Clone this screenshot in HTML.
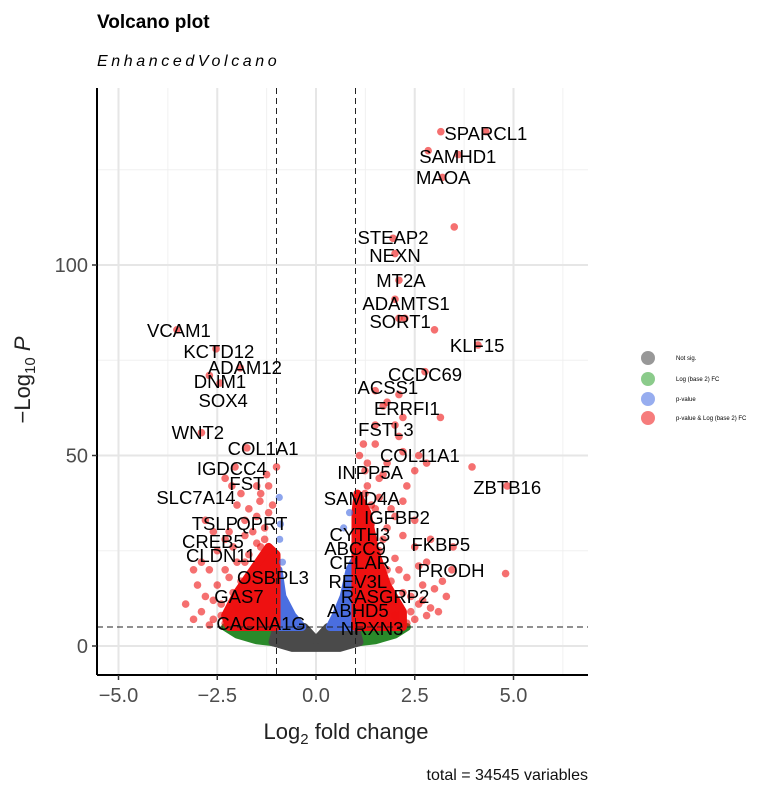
<!DOCTYPE html>
<html><head><meta charset="utf-8"><style>
body{margin:0;background:#fff;font-family:"Liberation Sans",sans-serif}
svg{display:block}
</style></head><body>
<svg id="chart" width="764" height="792" xmlns="http://www.w3.org/2000/svg">
<text x="97" y="28" font-size="19" font-weight="bold">Volcano plot</text>
<text x="97" y="66" font-size="16" font-style="italic" letter-spacing="3.6">EnhancedVolcano</text>
<g id="grid"></g>
<g id="dense"></g>
<g id="pts"></g>
<g id="thr"></g>
<g id="labels"></g>
<g id="axes"></g>
<text x="346" y="739" font-size="22" text-anchor="middle" fill="#222">Log<tspan font-size="15" dy="5">2</tspan><tspan dy="-5"> fold change</tspan></text>
<text transform="translate(30,380) rotate(-90)" font-size="22" text-anchor="middle" fill="#222">−Log<tspan font-size="15" dy="5">10</tspan><tspan dy="-5" font-style="italic"> P</tspan></text>
<text x="588" y="780" font-size="16" text-anchor="end" fill="#111">total = 34545 variables</text>
<g id="legend"></g>
</svg>
<script>
const xTicks=[-5,-2.5,0,2.5,5];
const xTickLabels=["−5.0","−2.5","0.0","2.5","5.0"];
const yTicks=[0,50,100];
const yTickLabels=["0","50","100"];
const fcCut=[-1,1];
const pCut=[5];
const redX=[3.16,4.3,2.84,3.6,3.2,3.5,1.95,2.0,2.1,2.0,2.1,2.25,3.0,4.1,2.76,1.5,2.1,1.7,3.15,2.0,2.1,1.5,2.6,2.2,3.95,4.84,1.24,1.6,1.24,2.3,1.4,2.0,2.5,1.0,1.8,3.47,2.9,3.44,4.8,2.8,2.3,2.7,3.0,2.9,2.4,2.2,1.8,1.6,2.5,2.0,1.5,1.3,1.8,-3.52,-2.53,-1.92,-2.43,-2.7,-2.9,-1.75,-2.05,-2.13,-1.42,-2.8,-1.5,-1.25,-1.9,-2.3,-1.7,-2.2,-1.6,-2.5,-2.7,-3.0,-2.6,-2.2,-1.8,-2.9,-2.4,-1.4,-1.2,-1.3,-2.0,-3.1,
2.3,2.5,2.8,3.1,2.6,2.0,2.4,1.9,2.1,2.6,3.2,2.0,1.7,2.2,1.4,1.9,1.6,2.2,1.3,1.7,2.5,2.8,1.1,1.5,2.2,1.8,3.3,2.7,1.2,
-2.3,-2.6,-2.9,-2.4,-2.8,-2.1,-2.5,-1.9,-2.3,-2.0,-1.7,-2.1,-1.5,-2.3,-1.8,-1.3,-2.6,-1.5,-1.1,-2.0,-1.4,-3.3,-3.1,-2.7,-1.8,-1.2,-1.0];
const redY=[135,135,130,129,123,110,107,103,96,91,86,86,83,79,72,67,66,63,60,58,55,53,50,51,47,42,46,44,40,42,37,34,33,30,31,26,28,20,19,22,18,12,15,10,9,14,20,25,26,8,36,48,48,83,78,73,69,71,56,52,47,42,38,33,42,45,40,44,36,30,30,25,20,16,12,18,22,22,8,26,35,28,10,20,
6,7,8,9,11,12,13,17,20,21,17,23,28,29,32,36,39,38,42,45,46,48,50,58,60,64,13,16,53,
6,7,9,11,13,14,16,17,20,22,24,26,27,28,29,31,30,34,37,37,40,11,7,5.5,33,42,47];
const blueX=[-0.93,-0.9,-0.92,-0.85,0.7,0.85];
const blueY=[39,32,28,22,31,35];
const greyPolyX=[-1,-1.1,-0.6,0.6,1.1,1,0.3,0,-0.3];
const greyPolyY=[5,1,-0.5,-0.5,1,5,5,1.6,5];
const greenLX=[-1,-2.3,-2.0,-1.5,-1.1];const greenLY=[5,5,3,1.5,1];
const greenRX=[1,2.3,2.0,1.5,1.1];const greenRY=[5,5,3,1.5,1];
const blueLX=[-1,-0.35,-0.6,-0.85,-0.95,-1];const blueLY=[5,5,8,13,20,20];
const blueRX=[1,0.35,0.5,0.7,0.85,1];const blueRY=[5,5,8,13,20,23];
const redLX=[-1,-2.2,-2.3,-2.0,-1.6,-1.2,-1];const redLY=[5,5,8,14,20,26,24];
const redRX=[1,2.2,2.2,1.8,1.5,1.3,1.05,1];const redRY=[5,5,9,16,25,35,40,35];
const geneNames=["SPARCL1","SAMHD1","MAOA","STEAP2","NEXN","MT2A","ADAMTS1","SORT1","KLF15","CCDC69","ACSS1","ERRFI1","FSTL3","COL11A1","INPP5A","ZBTB16","SAMD4A","IGFBP2","CYTH3","ABCC9","FKBP5","CFLAR","PRODH","REV3L","RASGRP2","ABHD5","NRXN3","VCAM1","KCTD12","ADAM12","DNM1","SOX4","WNT2","COL1A1","IGDCC4","FST","SLC7A14","TSLP","QPRT","CREB5","CLDN11","OSBPL3","GAS7","CACNA1G"];
const geneLX=[4.30,3.59,3.22,1.95,2.0,2.15,2.28,2.13,4.08,2.76,1.82,2.30,1.77,2.63,1.37,4.84,1.16,2.05,1.11,0.99,3.16,1.11,3.42,1.06,1.75,1.06,1.42,-3.47,-2.46,-1.80,-2.43,-2.35,-2.99,-1.34,-2.13,-1.75,-3.04,-2.56,-1.37,-2.61,-2.41,-1.09,-1.95,-1.39];
const geneLY=[134.4,128.3,122.8,107.1,102.4,95.8,89.8,85.0,78.7,71.1,67.7,62.2,56.7,49.9,45.4,41.5,38.6,33.6,29.1,25.5,26.5,21.8,19.7,16.8,12.9,9.2,4.5,82.7,77.2,73.0,69.3,64.3,55.9,51.7,46.5,42.5,38.8,32.0,32.0,27.3,23.6,17.9,12.9,5.8];
const legendLabels=["Not sig.","Log (base 2) FC","p-value","p-value & Log (base 2) FC"];
const legendColors=["#444444","#2ca02c","#4169e1","#ee1111"];

const X0=97,X1=588,Y0=88,Y1=675;
const sx=v=>316+v*39.5, sy=v=>646-v*3.81;
const NS="http://www.w3.org/2000/svg";
function mk(t,p,a){const e=document.createElementNS(NS,t);for(const k in a)e.setAttribute(k,a[k]);p.appendChild(e);return e;}
const G=id=>document.getElementById(id);
const grid=G('grid');
[-3.75,-1.25,1.25,3.75,6.25].forEach(v=>{const l=mk('line',grid,{x1:sx(v),x2:sx(v),y1:Y0,y2:Y1,stroke:'#f0f0f0','stroke-width':1});

});
[25,75,125].forEach(v=>{const l=mk('line',grid,{x1:X0,x2:X1,y1:sy(v),y2:sy(v),stroke:'#f0f0f0','stroke-width':1});

});
xTicks.forEach(v=>{const l=mk('line',grid,{x1:sx(v),x2:sx(v),y1:Y0,y2:Y1,stroke:'#e6e6e6','stroke-width':2});

});
yTicks.forEach(v=>{const l=mk('line',grid,{x1:X0,x2:X1,y1:sy(v),y2:sy(v),stroke:'#e6e6e6','stroke-width':2});

});
const dense=G('dense');
function poly(xs,ys,fill,name){const p=mk('polygon',dense,{points:xs.map((x,i)=>sx(x)+','+sy(ys[i])).join(' '),fill:fill,stroke:fill,'stroke-width':8,'stroke-linejoin':'round'});

}
poly(greenLX,greenLY,'#2a8a2a','green-cloud-left');
poly(greenRX,greenRY,'#2a8a2a','green-cloud-right');
poly(greyPolyX,greyPolyY,'#4a4a4a','grey-cloud');
poly(blueLX,blueLY,'#4a6ee0','blue-cloud-left');
poly(blueRX,blueRY,'#4a6ee0','blue-cloud-right');
poly(redLX,redLY,'#ee1111','red-cloud-left');
poly(redRX,redRY,'#ee1111','red-cloud-right');
const pts=G('pts');
redX.forEach((x,i)=>{const c=mk('circle',pts,{cx:sx(x),cy:sy(redY[i]),r:3.8,fill:'#ee1111','fill-opacity':0.6});

});
blueX.forEach((x,i)=>{const c=mk('circle',pts,{cx:sx(x),cy:sy(blueY[i]),r:3.6,fill:'#4169e1','fill-opacity':0.6});

});
const thr=G('thr');
fcCut.forEach(v=>{const l=mk('line',thr,{x1:sx(v),x2:sx(v),y1:Y0,y2:Y1,stroke:'#222','stroke-width':1,'stroke-dasharray':'6,4'});

});
pCut.forEach(v=>{const l=mk('line',thr,{x1:X0,x2:X1,y1:sy(v),y2:sy(v),stroke:'#222','stroke-width':1,'stroke-dasharray':'6,4'});

});
const lab=G('labels');
geneNames.forEach((n,i)=>{const t=mk('text',lab,{x:sx(geneLX[i]),y:sy(geneLY[i])+6,'font-size':18.5,'text-anchor':'middle',fill:'#000'});t.textContent=n;

});
const ax=G('axes');
let a=mk('line',ax,{x1:X0,x2:X0,y1:Y0,y2:Y1,stroke:'#000','stroke-width':2});


a=mk('line',ax,{x1:X0,x2:X1,y1:Y1,y2:Y1,stroke:'#000','stroke-width':2});


xTicks.forEach((v,i)=>{const l=mk('line',ax,{x1:sx(v),x2:sx(v),y1:Y1,y2:Y1+5,stroke:'#333','stroke-width':1.5});


const t=mk('text',ax,{x:sx(v),y:Y1+27,'font-size':20,'text-anchor':'middle',fill:'#4d4d4d'});t.textContent=xTickLabels[i];

});
yTicks.forEach((v,i)=>{const l=mk('line',ax,{x1:X0-5,x2:X0,y1:sy(v),y2:sy(v),stroke:'#333','stroke-width':1.5});


const t=mk('text',ax,{x:X0-9,y:sy(v)+7,'font-size':20,'text-anchor':'end',fill:'#4d4d4d'});t.textContent=yTickLabels[i];

});
const lg=G('legend');
const ly=[358,379,399,418];
legendLabels.forEach((n,i)=>{const c=mk('circle',lg,{cx:648,cy:ly[i],r:7,fill:legendColors[i],'fill-opacity':0.55});


const t=mk('text',lg,{x:676,y:ly[i]+2,'font-size':6,fill:'#000'});t.textContent=n;

});
</script>
</body></html>
